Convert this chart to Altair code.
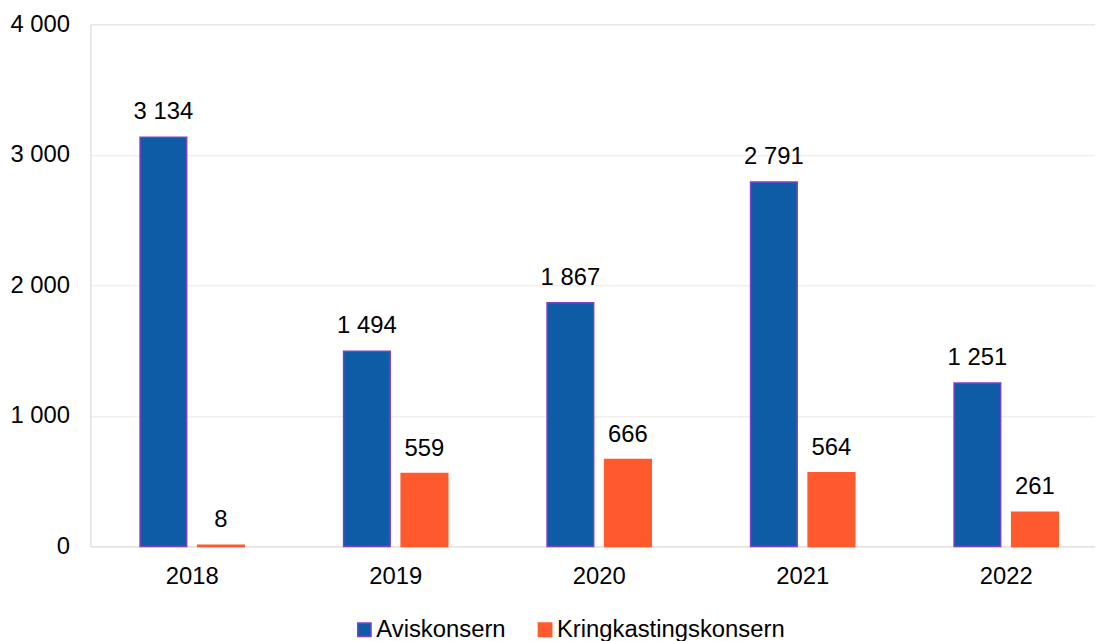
import altair as alt
import pandas as pd

years = ["2018", "2019", "2020", "2021", "2022"]
series = ["Aviskonsern", "Kringkastingskonsern"]
avis = [3134, 1494, 1867, 2791, 1251]
kring = [8, 559, 666, 564, 261]
y_ticks = [0, 1000, 2000, 3000, 4000]

rows = []
for i, yr in enumerate(years):
    rows.append({"year": yr, "series": series[0], "value": avis[i]})
    rows.append({"year": yr, "series": series[1], "value": kring[i]})
df = pd.DataFrame(rows)

FONT = "Liberation Sans"
FS = 24

x_scale = alt.Scale(paddingInner=0.4878, paddingOuter=0.2122, align=0.575)
x_enc = alt.X("year:N", sort=years, title=None, scale=x_scale,
              axis=alt.Axis(labelAngle=0, ticks=False, labelPadding=18, domainColor="#E6E2DA",
                            labelFontSize=FS, labelFont=FONT, labelColor="#000000", grid=False))
xo_enc = alt.XOffset("series:N", sort=series,
                     scale=alt.Scale(paddingInner=0.19, paddingOuter=0))
y_scale = alt.Scale(domain=[0, 4000], nice=False)
y_enc = alt.Y("value:Q", title=None, scale=y_scale,
              axis=alt.Axis(values=y_ticks, ticks=False, labelPadding=21,
                            labelExpr="replace(format(datum.value, ','), ',', ' ')",
                            labelFontSize=FS, labelFont=FONT, labelColor="#000000",
                            domainColor="#E6E2DA", gridColor="#ECE8E0", gridWidth=1))

color_scale = alt.Scale(domain=series, range=["#0F5CA6", "#FF5A2E"])
stroke_scale = alt.Scale(domain=series, range=["#8040C8", "#FF5A2E"])

bars = alt.Chart(df).mark_bar(strokeWidth=1.5).encode(
    x=x_enc,
    xOffset=xo_enc,
    y=y_enc,
    fill=alt.Fill("series:N", scale=color_scale, title=None,
                  legend=alt.Legend(orient="none", legendX=264, legendY=598,
                                    direction="horizontal", columns=2, columnPadding=27,
                                    symbolType="square", symbolSize=180, symbolStrokeWidth=1.5,
                                    labelFontSize=FS, labelFont=FONT, labelColor="#000000",
                                    labelOffset=0, labelLimit=500, title=None)),
    stroke=alt.Stroke("series:N", scale=stroke_scale, title=None, legend=None),
)

labels = alt.Chart(df).transform_calculate(
    lab="replace(format(datum.value, ','), ',', ' ')"
).mark_text(baseline="alphabetic", dy=-18, fontSize=FS, font=FONT, color="#000000").encode(
    x=alt.X("year:N", sort=years, scale=x_scale),
    xOffset=xo_enc,
    y=alt.Y("value:Q", scale=y_scale),
    text="lab:N",
)

chart = alt.layer(bars, labels).properties(
    width=1012, height=526,
    autosize=alt.AutoSizeParams(type="none"),
    padding={"left": 83, "top": 14, "right": 0, "bottom": 97},
).configure_view(stroke=None).configure(background="#ffffff")

chart.save("out.html", embed_options={"renderer": "svg", "actions": False})
